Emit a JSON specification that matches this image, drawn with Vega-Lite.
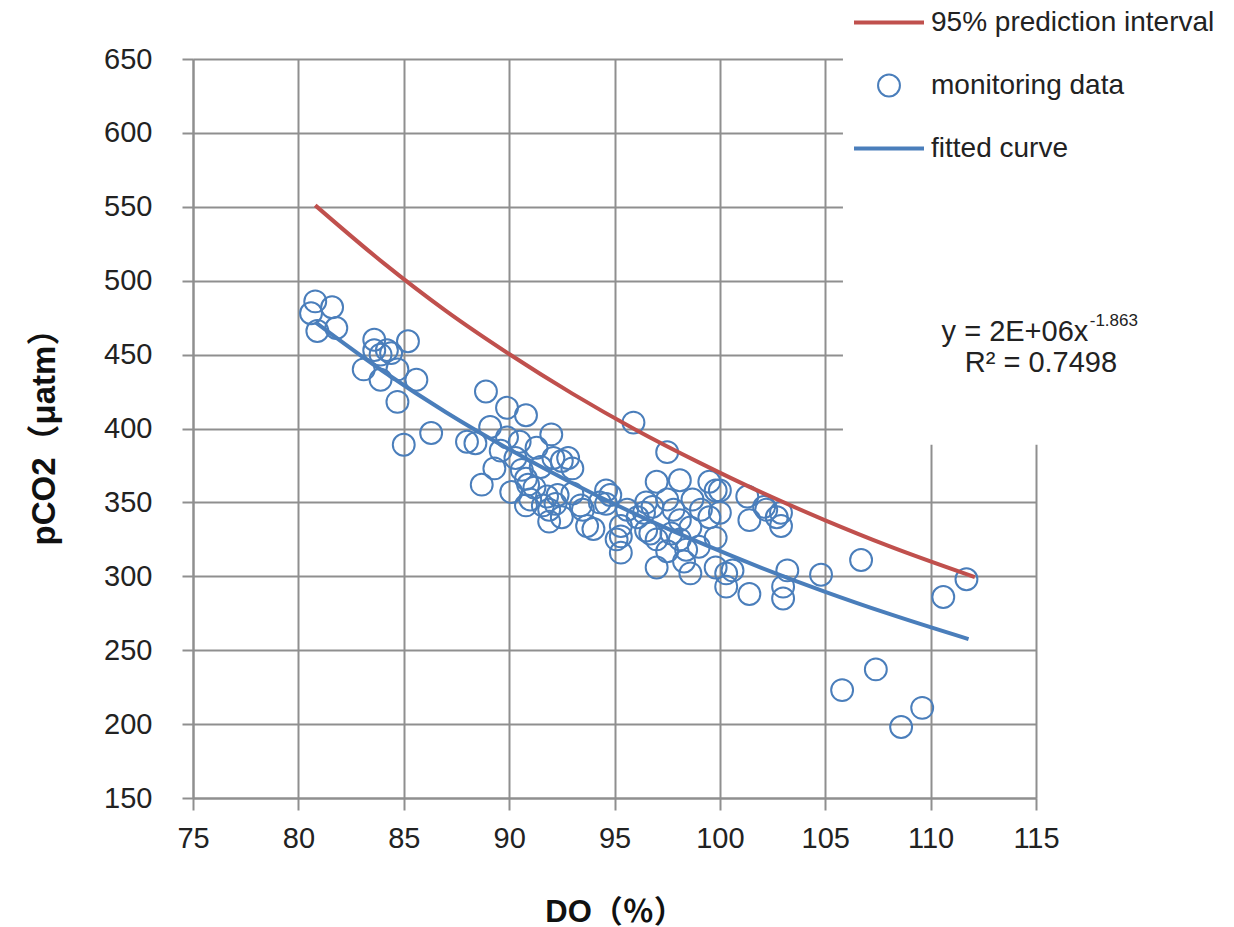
{
  "$schema": "https://vega.github.io/schema/vega-lite/v6.json",
  "width": 843,
  "height": 739,
  "autosize": "none",
  "padding": {"left": 193, "top": 59, "right": 198, "bottom": 129},
  "background": "white",
  "config": {
    "view": {"stroke": null},
    "font": "Liberation Sans",
    "axis": {
      "grid": true,
      "gridColor": "#8f8f8f",
      "gridWidth": 2,
      "domainColor": "#8f8f8f",
      "domainWidth": 2,
      "tickColor": "#8f8f8f",
      "tickWidth": 2,
      "labelFont": "Liberation Sans",
      "labelFontSize": 29,
      "labelColor": "#222222",
      "labelFlush": false,
      "labelOverlap": false,
      "titleFont": "Liberation Sans, Noto Sans CJK SC",
      "titleFontWeight": "bold",
      "titleColor": "#111111"
    }
  },
  "datasets": {
    "box": [{"DO": 105.84, "DO2": 125, "pCO2": 389, "pCO22": 720}],
    "pred": [
      {"DO": 80.8, "pCO2": 551, "series": "95% prediction interval"},
      {"DO": 84, "pCO2": 512.4, "series": "95% prediction interval"},
      {"DO": 87, "pCO2": 479.6, "series": "95% prediction interval"},
      {"DO": 90, "pCO2": 450.4, "series": "95% prediction interval"},
      {"DO": 93, "pCO2": 423.6, "series": "95% prediction interval"},
      {"DO": 96, "pCO2": 399.2, "series": "95% prediction interval"},
      {"DO": 99, "pCO2": 377.1, "series": "95% prediction interval"},
      {"DO": 102, "pCO2": 356.6, "series": "95% prediction interval"},
      {"DO": 105, "pCO2": 337.9, "series": "95% prediction interval"},
      {"DO": 108, "pCO2": 320.6, "series": "95% prediction interval"},
      {"DO": 112.1, "pCO2": 299.5, "series": "95% prediction interval"}
    ],
    "fit": [
      {"DO": 80.8, "pCO2": 472, "series": "fitted curve"},
      {"DO": 84, "pCO2": 438.9, "series": "fitted curve"},
      {"DO": 87, "pCO2": 411.0, "series": "fitted curve"},
      {"DO": 90, "pCO2": 385.9, "series": "fitted curve"},
      {"DO": 93, "pCO2": 363.0, "series": "fitted curve"},
      {"DO": 96, "pCO2": 342.1, "series": "fitted curve"},
      {"DO": 99, "pCO2": 323.1, "series": "fitted curve"},
      {"DO": 102, "pCO2": 305.6, "series": "fitted curve"},
      {"DO": 105, "pCO2": 289.5, "series": "fitted curve"},
      {"DO": 108, "pCO2": 274.7, "series": "fitted curve"},
      {"DO": 111.8, "pCO2": 257.5, "series": "fitted curve"}
    ],
    "obs": [
      {"DO": 80.8, "pCO2": 486, "series": "monitoring data"},
      {"DO": 81.6, "pCO2": 482, "series": "monitoring data"},
      {"DO": 80.6, "pCO2": 478, "series": "monitoring data"},
      {"DO": 80.9, "pCO2": 466, "series": "monitoring data"},
      {"DO": 81.8, "pCO2": 468, "series": "monitoring data"},
      {"DO": 83.6, "pCO2": 460, "series": "monitoring data"},
      {"DO": 83.6, "pCO2": 453, "series": "monitoring data"},
      {"DO": 83.9, "pCO2": 450, "series": "monitoring data"},
      {"DO": 84.2, "pCO2": 453, "series": "monitoring data"},
      {"DO": 84.4, "pCO2": 451, "series": "monitoring data"},
      {"DO": 85.2, "pCO2": 459, "series": "monitoring data"},
      {"DO": 83.1, "pCO2": 440, "series": "monitoring data"},
      {"DO": 83.9, "pCO2": 433, "series": "monitoring data"},
      {"DO": 84.7, "pCO2": 440, "series": "monitoring data"},
      {"DO": 85.6, "pCO2": 433, "series": "monitoring data"},
      {"DO": 84.7, "pCO2": 418, "series": "monitoring data"},
      {"DO": 85.0, "pCO2": 389, "series": "monitoring data"},
      {"DO": 86.3, "pCO2": 397, "series": "monitoring data"},
      {"DO": 88.0, "pCO2": 391, "series": "monitoring data"},
      {"DO": 88.4, "pCO2": 390, "series": "monitoring data"},
      {"DO": 88.9, "pCO2": 425, "series": "monitoring data"},
      {"DO": 89.9, "pCO2": 414, "series": "monitoring data"},
      {"DO": 90.8, "pCO2": 409, "series": "monitoring data"},
      {"DO": 89.1, "pCO2": 401, "series": "monitoring data"},
      {"DO": 89.9, "pCO2": 394, "series": "monitoring data"},
      {"DO": 90.5, "pCO2": 391, "series": "monitoring data"},
      {"DO": 92.0, "pCO2": 396, "series": "monitoring data"},
      {"DO": 91.3, "pCO2": 387, "series": "monitoring data"},
      {"DO": 89.3, "pCO2": 373, "series": "monitoring data"},
      {"DO": 88.7, "pCO2": 362, "series": "monitoring data"},
      {"DO": 90.1, "pCO2": 357, "series": "monitoring data"},
      {"DO": 90.6, "pCO2": 372, "series": "monitoring data"},
      {"DO": 90.8, "pCO2": 366, "series": "monitoring data"},
      {"DO": 91.5, "pCO2": 374, "series": "monitoring data"},
      {"DO": 92.1, "pCO2": 380, "series": "monitoring data"},
      {"DO": 92.8, "pCO2": 380, "series": "monitoring data"},
      {"DO": 93.0, "pCO2": 373, "series": "monitoring data"},
      {"DO": 90.9, "pCO2": 362, "series": "monitoring data"},
      {"DO": 91.8, "pCO2": 354, "series": "monitoring data"},
      {"DO": 92.2, "pCO2": 349, "series": "monitoring data"},
      {"DO": 91.6, "pCO2": 348, "series": "monitoring data"},
      {"DO": 91.9, "pCO2": 345, "series": "monitoring data"},
      {"DO": 90.8, "pCO2": 348, "series": "monitoring data"},
      {"DO": 93.4, "pCO2": 348, "series": "monitoring data"},
      {"DO": 91.9, "pCO2": 337, "series": "monitoring data"},
      {"DO": 93.7, "pCO2": 334, "series": "monitoring data"},
      {"DO": 94.0, "pCO2": 332, "series": "monitoring data"},
      {"DO": 94.6, "pCO2": 358, "series": "monitoring data"},
      {"DO": 94.6, "pCO2": 349, "series": "monitoring data"},
      {"DO": 94.3, "pCO2": 350, "series": "monitoring data"},
      {"DO": 95.3, "pCO2": 327, "series": "monitoring data"},
      {"DO": 95.3, "pCO2": 316, "series": "monitoring data"},
      {"DO": 95.9, "pCO2": 404, "series": "monitoring data"},
      {"DO": 95.6, "pCO2": 345, "series": "monitoring data"},
      {"DO": 96.5, "pCO2": 350, "series": "monitoring data"},
      {"DO": 96.4, "pCO2": 343, "series": "monitoring data"},
      {"DO": 96.8, "pCO2": 347, "series": "monitoring data"},
      {"DO": 96.5, "pCO2": 331, "series": "monitoring data"},
      {"DO": 97.5, "pCO2": 384, "series": "monitoring data"},
      {"DO": 97.0, "pCO2": 364, "series": "monitoring data"},
      {"DO": 98.1, "pCO2": 365, "series": "monitoring data"},
      {"DO": 99.5, "pCO2": 364, "series": "monitoring data"},
      {"DO": 99.8, "pCO2": 358, "series": "monitoring data"},
      {"DO": 97.5, "pCO2": 352, "series": "monitoring data"},
      {"DO": 98.7, "pCO2": 352, "series": "monitoring data"},
      {"DO": 99.1, "pCO2": 345, "series": "monitoring data"},
      {"DO": 99.5, "pCO2": 340, "series": "monitoring data"},
      {"DO": 96.1, "pCO2": 340, "series": "monitoring data"},
      {"DO": 95.3, "pCO2": 334, "series": "monitoring data"},
      {"DO": 95.1, "pCO2": 325, "series": "monitoring data"},
      {"DO": 96.7, "pCO2": 329, "series": "monitoring data"},
      {"DO": 97.0, "pCO2": 325, "series": "monitoring data"},
      {"DO": 98.1, "pCO2": 325, "series": "monitoring data"},
      {"DO": 98.4, "pCO2": 318, "series": "monitoring data"},
      {"DO": 97.5, "pCO2": 317, "series": "monitoring data"},
      {"DO": 98.6, "pCO2": 333, "series": "monitoring data"},
      {"DO": 98.1, "pCO2": 338, "series": "monitoring data"},
      {"DO": 97.0, "pCO2": 306, "series": "monitoring data"},
      {"DO": 98.6, "pCO2": 302, "series": "monitoring data"},
      {"DO": 99.8, "pCO2": 326, "series": "monitoring data"},
      {"DO": 99.8, "pCO2": 306, "series": "monitoring data"},
      {"DO": 100.3, "pCO2": 302, "series": "monitoring data"},
      {"DO": 101.4, "pCO2": 288, "series": "monitoring data"},
      {"DO": 101.3, "pCO2": 354, "series": "monitoring data"},
      {"DO": 102.1, "pCO2": 347, "series": "monitoring data"},
      {"DO": 101.4, "pCO2": 338, "series": "monitoring data"},
      {"DO": 102.7, "pCO2": 340, "series": "monitoring data"},
      {"DO": 102.9, "pCO2": 334, "series": "monitoring data"},
      {"DO": 103.2, "pCO2": 304, "series": "monitoring data"},
      {"DO": 103.0, "pCO2": 293, "series": "monitoring data"},
      {"DO": 103.0, "pCO2": 285, "series": "monitoring data"},
      {"DO": 104.8, "pCO2": 301, "series": "monitoring data"},
      {"DO": 102.9, "pCO2": 343, "series": "monitoring data"},
      {"DO": 102.2, "pCO2": 345, "series": "monitoring data"},
      {"DO": 100.0, "pCO2": 358, "series": "monitoring data"},
      {"DO": 100.0, "pCO2": 343, "series": "monitoring data"},
      {"DO": 100.6, "pCO2": 304, "series": "monitoring data"},
      {"DO": 100.3, "pCO2": 293, "series": "monitoring data"},
      {"DO": 106.7, "pCO2": 311, "series": "monitoring data"},
      {"DO": 107.4, "pCO2": 237, "series": "monitoring data"},
      {"DO": 105.8, "pCO2": 223, "series": "monitoring data"},
      {"DO": 109.6, "pCO2": 211, "series": "monitoring data"},
      {"DO": 108.6, "pCO2": 198, "series": "monitoring data"},
      {"DO": 110.6, "pCO2": 286, "series": "monitoring data"},
      {"DO": 111.7, "pCO2": 298, "series": "monitoring data"},
      {"DO": 92.5, "pCO2": 378, "series": "monitoring data"},
      {"DO": 91.0, "pCO2": 352, "series": "monitoring data"},
      {"DO": 92.5, "pCO2": 340, "series": "monitoring data"},
      {"DO": 93.0, "pCO2": 356, "series": "monitoring data"},
      {"DO": 93.5, "pCO2": 345, "series": "monitoring data"},
      {"DO": 91.2, "pCO2": 360, "series": "monitoring data"},
      {"DO": 89.6, "pCO2": 385, "series": "monitoring data"},
      {"DO": 90.3, "pCO2": 380, "series": "monitoring data"},
      {"DO": 92.3, "pCO2": 355, "series": "monitoring data"},
      {"DO": 94.8, "pCO2": 355, "series": "monitoring data"},
      {"DO": 97.8, "pCO2": 345, "series": "monitoring data"},
      {"DO": 98.3, "pCO2": 310, "series": "monitoring data"},
      {"DO": 99.0, "pCO2": 320, "series": "monitoring data"},
      {"DO": 97.7, "pCO2": 329, "series": "monitoring data"}
    ],
    "eq": [
      {"DO": 110.52, "pCO2": 465.3, "t": "y = 2E+06x"}
    ],
    "sup": [
      {"DO": 117.55, "pCO2": 472.5, "t": "-1.863"}
    ],
    "r2": [
      {"DO": 111.62, "pCO2": 444.3, "t": "R² = 0.7498"}
    ]
  },
  "encoding": {
    "x": {
      "field": "DO",
      "type": "quantitative",
      "scale": {"domain": [75, 115], "nice": false, "zero": false},
      "axis": {
        "title": "DO（％）",
        "titleFontSize": 31,
        "values": [75, 80, 85, 90, 95, 100, 105, 110, 115],
        "tickSize": 12,
        "labelPadding": 14,
        "titlePadding": 44
      }
    },
    "y": {
      "field": "pCO2",
      "type": "quantitative",
      "scale": {"domain": [150, 650], "nice": false, "zero": false},
      "axis": {
        "title": "pCO2（μatm）",
        "titleFontSize": 33,
        "values": [150, 200, 250, 300, 350, 400, 450, 500, 550, 600, 650],
        "tickSize": 11,
        "labelPadding": 30,
        "titlePadding": 42
      }
    }
  },
  "layer": [
    {
      "data": {"name": "box"},
      "mark": {"type": "rect", "fill": "white", "stroke": null},
      "encoding": {
        "x2": {"field": "DO2"},
        "y2": {"field": "pCO22"}
      }
    },
    {
      "data": {"name": "obs"},
      "mark": {"type": "point", "filled": false, "opacity": 1},
      "encoding": {
        "color": {
          "field": "series",
          "type": "nominal",
          "scale": {
            "domain": ["95% prediction interval", "monitoring data", "fitted curve"],
            "range": ["#C0504D", "#4A7EBB", "#4A7EBB"]
          },
          "legend": {
            "orient": "none",
            "legendX": 659,
            "legendY": -68,
            "title": null,
            "labelFont": "Liberation Sans",
            "labelFontSize": 28,
            "labelColor": "#222222",
            "labelLimit": 500,
            "labelOffset": 5,
            "clipHeight": 63,
            "rowPadding": 0,
            "padding": 0
          }
        },
        "shape": {
          "field": "series",
          "type": "nominal",
          "scale": {
            "domain": ["95% prediction interval", "monitoring data", "fitted curve"],
            "range": ["stroke", "circle", "stroke"]
          },
          "legend": {"orient": "none", "legendX": 659, "legendY": -68, "title": null, "clipHeight": 63}
        },
        "size": {
          "field": "series",
          "type": "ordinal",
          "scale": {
            "type": "ordinal",
            "domain": ["95% prediction interval", "monitoring data", "fitted curve"],
            "range": [4900, 480, 4900]
          },
          "legend": {"orient": "none", "legendX": 659, "legendY": -68, "title": null, "clipHeight": 63}
        },
        "strokeWidth": {
          "field": "series",
          "type": "ordinal",
          "scale": {
            "type": "ordinal",
            "domain": ["95% prediction interval", "monitoring data", "fitted curve"],
            "range": [4, 2, 4]
          },
          "legend": {"orient": "none", "legendX": 659, "legendY": -68, "title": null, "clipHeight": 63}
        }
      }
    },
    {
      "data": {"name": "pred"},
      "mark": {"type": "line", "strokeWidth": 4, "interpolate": "monotone"},
      "encoding": {
        "color": {
          "field": "series",
          "type": "nominal",
          "scale": {
            "domain": ["95% prediction interval", "monitoring data", "fitted curve"],
            "range": ["#C0504D", "#4A7EBB", "#4A7EBB"]
          }
        }
      }
    },
    {
      "data": {"name": "fit"},
      "mark": {"type": "line", "strokeWidth": 4, "interpolate": "monotone"},
      "encoding": {
        "color": {
          "field": "series",
          "type": "nominal",
          "scale": {
            "domain": ["95% prediction interval", "monitoring data", "fitted curve"],
            "range": ["#C0504D", "#4A7EBB", "#4A7EBB"]
          }
        }
      }
    },
    {
      "data": {"name": "eq"},
      "mark": {"type": "text", "align": "left", "baseline": "middle", "fontSize": 29, "font": "Liberation Sans", "color": "#222222"},
      "encoding": {"text": {"field": "t"}}
    },
    {
      "data": {"name": "sup"},
      "mark": {"type": "text", "align": "left", "baseline": "middle", "fontSize": 17, "font": "Liberation Sans", "color": "#222222"},
      "encoding": {"text": {"field": "t"}}
    },
    {
      "data": {"name": "r2"},
      "mark": {"type": "text", "align": "left", "baseline": "middle", "fontSize": 29, "font": "Liberation Sans", "color": "#222222"},
      "encoding": {"text": {"field": "t"}}
    }
  ]
}
